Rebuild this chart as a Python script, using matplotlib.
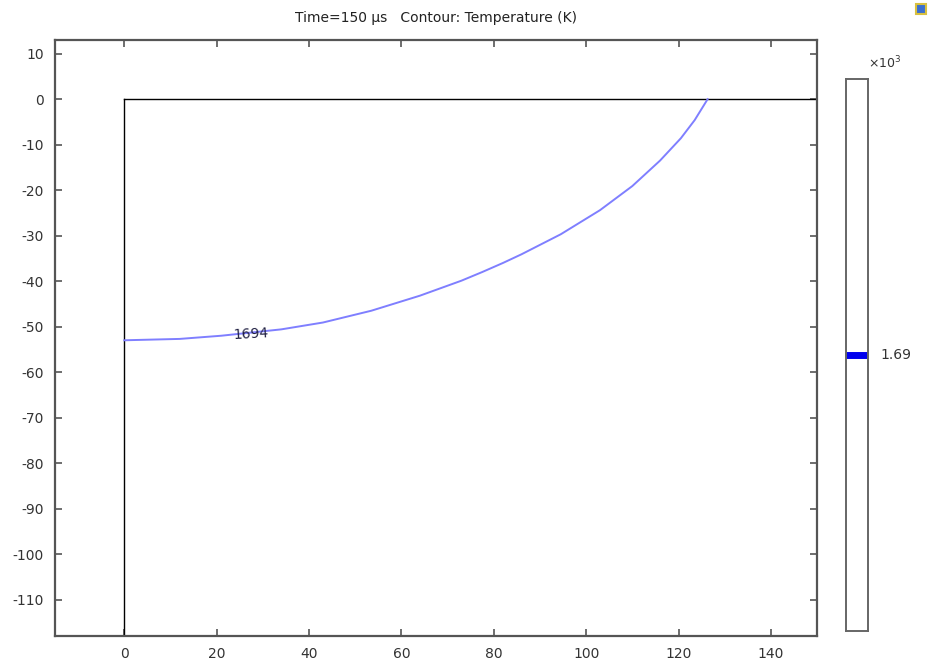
import matplotlib
matplotlib.use("Agg")
import matplotlib.pyplot as plt
from matplotlib.patches import Rectangle

# Data
contour_x = [0, 12, 21, 34, 43, 53.5, 64, 73, 77.5, 82, 86, 94.5, 103, 110, 116, 120.5, 123.5, 126.3]
contour_y = [-53.0, -52.7, -52.0, -50.6, -49.1, -46.5, -43.2, -39.9, -38.0, -36.0, -34.1,
             -29.7, -24.4, -19.1, -13.5, -8.6, -4.6, 0.0]
contour_level = 1694
colorbar_value = 1.69
x_ticks = [0, 20, 40, 60, 80, 100, 120, 140]
y_ticks = [10, 0, -10, -20, -30, -40, -50, -60, -70, -80, -90, -100, -110]
domain_x = [0, 150]
domain_depth = -118
title = "Time=150 µs   Contour: Temperature (K)"

plt.rcParams['font.family'] = ['DejaVu Sans']
fig = plt.figure(figsize=(9.32, 6.67), dpi=100)
ax = fig.add_axes([0.059, 0.0465, 0.8177, 0.8935])
ax.set_xlim(-15, 150)
ax.set_ylim(-118, 13)

spine_color = '#555555'
for s in ax.spines.values():
    s.set_color(spine_color)
    s.set_linewidth(1.6)

ax.set_xticks(x_ticks)
ax.set_yticks(y_ticks)
ax.set_yticklabels([str(v) for v in y_ticks])
ax.tick_params(direction='in', length=5, width=1.2, color=spine_color,
               top=True, right=True, labelsize=10, labelcolor='#333333', pad=8)

# Domain boundary
ax.plot([domain_x[0], domain_x[1]], [0, 0], color='black', lw=1.0, zorder=2)
ax.plot([0, 0], [0, domain_depth], color='black', lw=1.0, zorder=2)

# Contour
ax.plot(contour_x, contour_y, color='#7f7fff', lw=1.4, zorder=3,
        solid_joinstyle='round')
ax.text(27.5, -51.6, str(contour_level), fontsize=10, color='#222244',
        ha='center', va='center', rotation=3, zorder=4)

fig.text(436 / 932, 1 - 18 / 667, title, ha='center', va='center',
         fontsize=10, color='#222222')

# Colorbar
cax = fig.add_axes([846 / 932, 1 - 631 / 667, 22 / 932, 552 / 667])
cax.set_xlim(0, 1)
cax.set_ylim(colorbar_value - 0.1, colorbar_value + 0.1)
cax.set_xticks([])
cax.set_yticks([])
for s in cax.spines.values():
    s.set_color('#666666')
    s.set_linewidth(1.4)
cax.plot([0, 1], [colorbar_value, colorbar_value], color='#0000ee', lw=5,
         solid_capstyle='butt')
cax.text(1.55, colorbar_value, f"{colorbar_value:.2f}", transform=cax.get_yaxis_transform(),
         ha='left', va='center', fontsize=10, color='#333333')
fig.text(885 / 932, 1 - 63 / 667, r"×10$^3$", ha='center', va='center',
         fontsize=9, color='#333333')

# small icon top right
fig.patches.append(Rectangle((916 / 932, 1 - 14 / 667), 10 / 932, 10 / 667,
                             transform=fig.transFigure, facecolor='#3b6fd0',
                             edgecolor='#d8c040', lw=1.5))

fig.savefig("out.png", dpi=100)
